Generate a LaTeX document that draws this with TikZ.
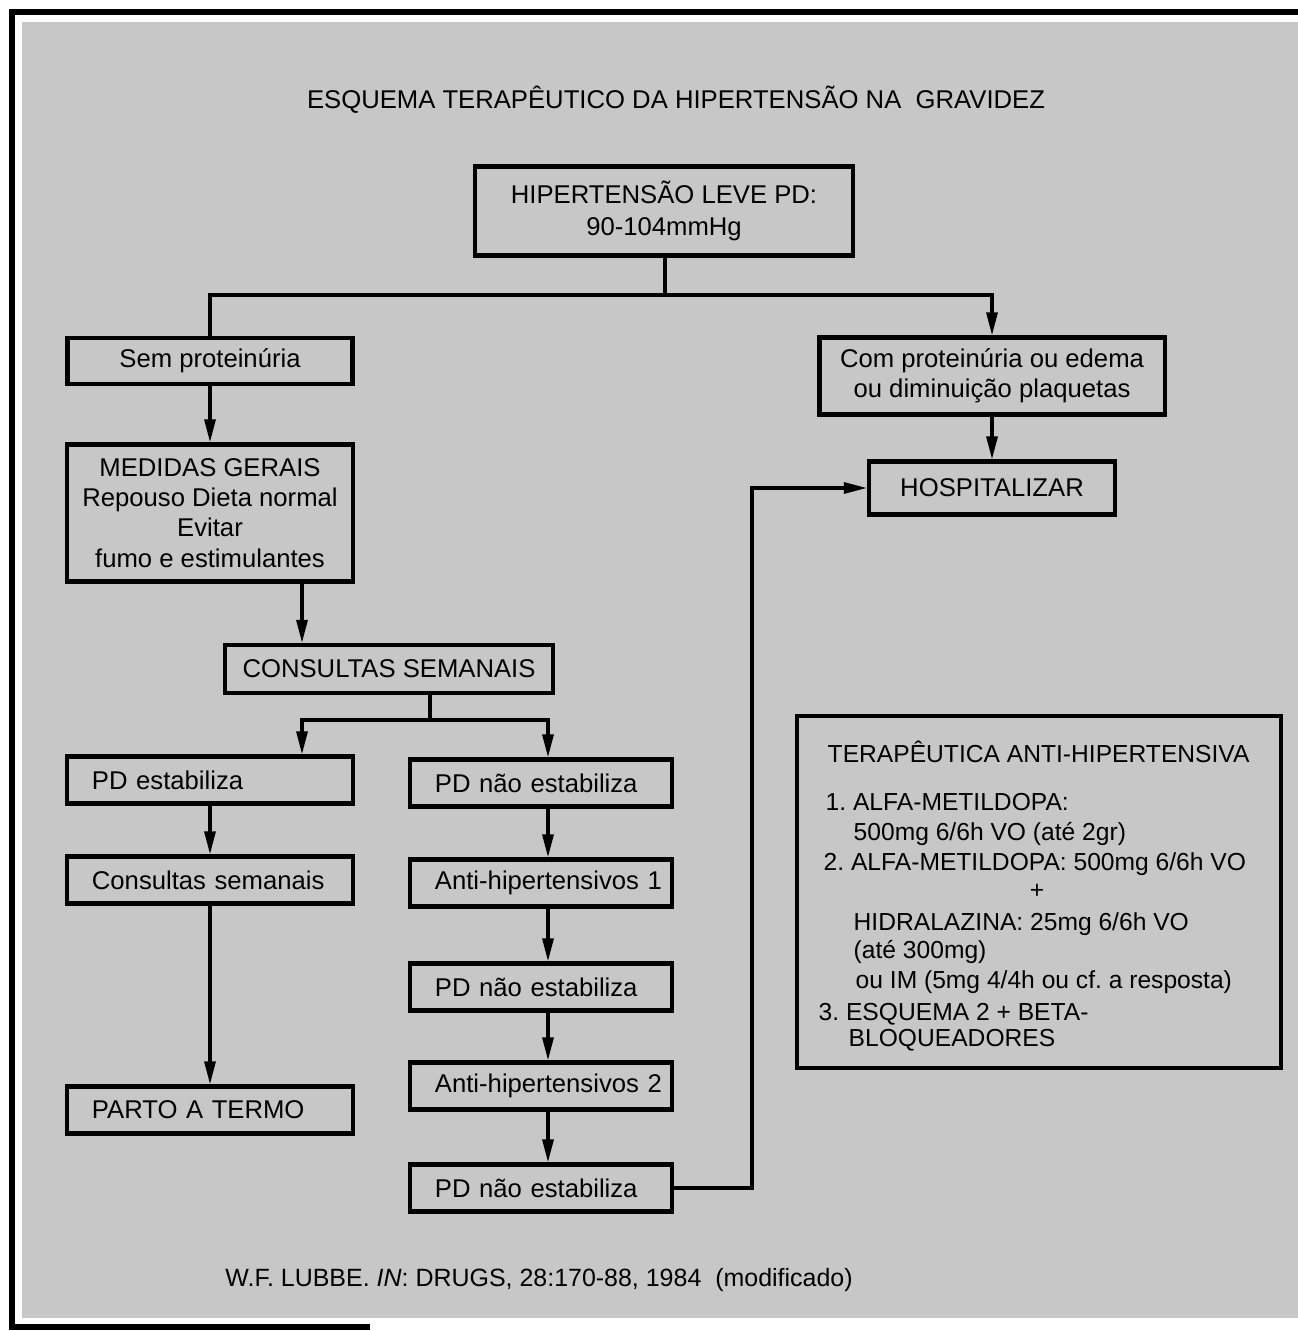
\documentclass[tikz,border=0pt]{standalone}
\usepackage{fontspec}
\setmainfont{Liberation Sans}
\usetikzlibrary{arrows.meta,calc,positioning}
\frenchspacing

\begin{document}
\begin{tikzpicture} [x=0.01cm,y=-0.01cm,{box/.style={draw=black,line width=1.2pt,inner sep=0pt,align=center,font=\fontsize{7.3}{8.6}\selectfont}},{lbox/.style={box,align=left,inner xsep=0.25cm,text width=2.36cm,minimum height=0.47cm}},{rbox/.style={lbox,text width=2.12cm,minimum height=0.47cm}},{linest/.style={line width=0.9pt}},{arr/.style={linest,-{Triangle[length=2.3mm,width=1.1mm]}}},{txt/.style={anchor=west,inner sep=0pt,font=\fontsize{7}{8.4}\selectfont,text height=1.6ex,text depth=.45ex}}]
	\useasboundingbox (0,0) rectangle (1298,1331);
	%%background and frame
	\fill [black!22] (22,22) rectangle (1298,1318);
	\draw [line width=1.8pt] (1298,12) -- (12,12) -- (12,1327) -- (370,1327);
	%%title
	\node [font=\fontsize{7.3}{9}\selectfont] (title) at (676,100) {ESQUEMA TERAPÊUTICO DA HIPERTENSÃO NA \ GRAVIDEZ};
	%%boxes
	\node [box,minimum width=3.78cm,minimum height=0.89cm] (top) at (664,211) {HIPERTENSÃO LEVE PD:\\[0.5pt]90-104mmHg};
	\node [box,minimum width=2.85cm,minimum height=0.46cm] (sem) at (210,361) {Sem proteinúria};
	\node [box,minimum width=3.45cm,minimum height=0.77cm] (com) at (992,376) {Com proteinúria ou edema\\ou diminuição plaquetas};
	\node [box,minimum width=2.86cm,minimum height=1.37cm] (medidas) at (210,513) {MEDIDAS GERAIS\\Repouso Dieta normal\\Evitar\\fumo e estimulantes};
	\node [box,minimum width=2.46cm,minimum height=0.53cm] (hosp) at (992,488) {HOSPITALIZAR};
	\node [box,minimum width=3.28cm,minimum height=0.48cm] (cons) at (389,669) {CONSULTAS SEMANAIS};
	\node [lbox] (pdest) at (210,780) {PD estabiliza};
	\node [lbox] (conss) at (210,880) {Consultas semanais};
	\node [lbox] (parto) at (210,1110) {PARTO A TERMO};
	\node [rbox] (nao1) at (541,783) {PD não estabiliza};
	\node [rbox] (anti1) at (541,883) {\mbox{Anti-hipertensivos 1}};
	\node [rbox] (nao2) at (541,987) {PD não estabiliza};
	\node [rbox] (anti2) at (541,1086) {\mbox{Anti-hipertensivos 2}};
	\node [rbox] (nao3) at (541,1188) {PD não estabiliza};
	%%therapy box
	\node [box,minimum width=4.84cm,minimum height=3.52cm] (terap) at (1039,892) {};
	\node [txt] (th) at (827,752) {TERAPÊUTICA ANTI-HIPERTENSIVA};
	\node [txt] (t1) at (825,800) {1. ALFA-METILDOPA:};
	\node [txt] (t2) at (853,830) {500mg 6/6h VO (até 2gr)};
	\node [txt] (t3) at (823,860) {2. ALFA-METILDOPA: 500mg 6/6h VO};
	\node [txt,anchor=center] (tplus) at (1037,888) {+};
	\node [txt] (t4) at (853,920) {HIDRALAZINA: 25mg 6/6h VO};
	\node [txt] (t5) at (853,948) {(até 300mg)};
	\node [txt] (t6) at (855,978) {ou IM (5mg 4/4h ou cf. a resposta)};
	\node [txt] (t7) at (818,1010) {3. ESQUEMA 2 + BETA-};
	\node [txt] (t8) at (848,1036) {BLOQUEADORES};
	%%source
	\node [anchor=west,font=\fontsize{7.1}{9}\selectfont] (src) at (213,1280) {W.F. LUBBE. \textit{IN}: DRUGS, 28:170-88, 1984 \ (modificado)};
	%%connectors
	\coordinate (split1) at (665,295);
	\coordinate (split2) at (430,720);
	\coordinate (colB) at (302,0);
	\coordinate (colC) at (548,0);
	\coordinate (turn) at (752,0);
	\draw [linest] (top.south -| split1) -- (split1);
	\draw [arr] (sem.north) |- (split1) -| (com.north);
	\draw [arr] (com) -- (hosp);
	\draw [arr] (sem) -- (medidas);
	\draw [arr] (medidas.south -| colB) -- (cons.north -| colB);
	\draw [linest] (cons.south -| split2) -- (split2);
	\draw [arr] (split2) -| (pdest.north -| colB);
	\draw [arr] (split2) -| (nao1.north -| colC);
	\draw [arr] (pdest) -- (conss);
	\draw [arr] (conss) -- (parto);
	\foreach \a/\b in {nao1/anti1,anti1/nao2,nao2/anti2,anti2/nao3}
		\draw [arr] (\a.south -| colC) -- (\b.north -| colC);
	\draw [arr] (nao3.east) -- (nao3.east -| turn) |- (hosp.west);
\end{tikzpicture}
\end{document}
